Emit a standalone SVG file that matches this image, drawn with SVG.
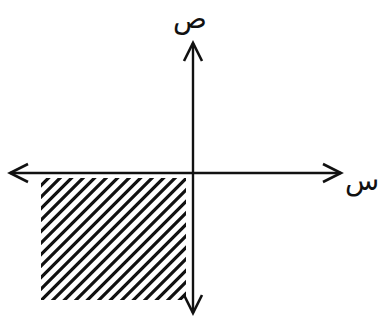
<svg xmlns="http://www.w3.org/2000/svg" width="378" height="322" viewBox="0 0 378 322">
<style>
.axis{stroke:#111;stroke-width:2.4;fill:none}
.h{stroke:#111;stroke-width:3.2}
.lbl{font-family:"DejaVu Sans",sans-serif;font-size:28px;fill:#111}
</style>
<defs>
<marker id="arr" markerUnits="userSpaceOnUse" markerWidth="40" markerHeight="40" refX="0" refY="0" viewBox="-20 -20 40 40" orient="auto" overflow="visible">
<path d="M -18 -9 L 0 0 L -18 9" fill="none" stroke="#111" stroke-width="2.6" stroke-linejoin="miter"/>
</marker>
<clipPath id="clip"><rect x="41" y="178" width="145" height="122"/></clipPath>
</defs>
<g id="region" clip-path="url(#clip)">
<path class="h" d="M 47 168 l -150 150 M 58.5 168 l -150 150 M 70 168 l -150 150 M 81.5 168 l -150 150 M 93 168 l -150 150 M 104.5 168 l -150 150 M 116 168 l -150 150 M 127.5 168 l -150 150 M 139 168 l -150 150 M 150.5 168 l -150 150 M 162 168 l -150 150 M 173.5 168 l -150 150 M 185 168 l -150 150 M 196.5 168 l -150 150 M 208 168 l -150 150 M 219.5 168 l -150 150 M 231 168 l -150 150 M 242.5 168 l -150 150 M 254 168 l -150 150 M 265.5 168 l -150 150 M 277 168 l -150 150 M 288.5 168 l -150 150 M 300 168 l -150 150 M 311.5 168 l -150 150 M 323 168 l -150 150 M 334.5 168 l -150 150"/>
</g>
<g id="connectors">
<line class="axis" x1="193" y1="173" x2="193" y2="43" marker-end="url(#arr)"/>
<line class="axis" x1="193" y1="173" x2="193" y2="313" marker-end="url(#arr)"/>
<line class="axis" x1="193" y1="173" x2="10" y2="173" marker-end="url(#arr)"/>
<line class="axis" x1="193" y1="173" x2="341" y2="173" marker-end="url(#arr)"/>
</g>
<g id="label-y"><text class="lbl" x="190" y="28" text-anchor="middle">ص</text></g>
<g id="label-x"><text class="lbl" x="362" y="190" text-anchor="middle">س</text></g>
</svg>
